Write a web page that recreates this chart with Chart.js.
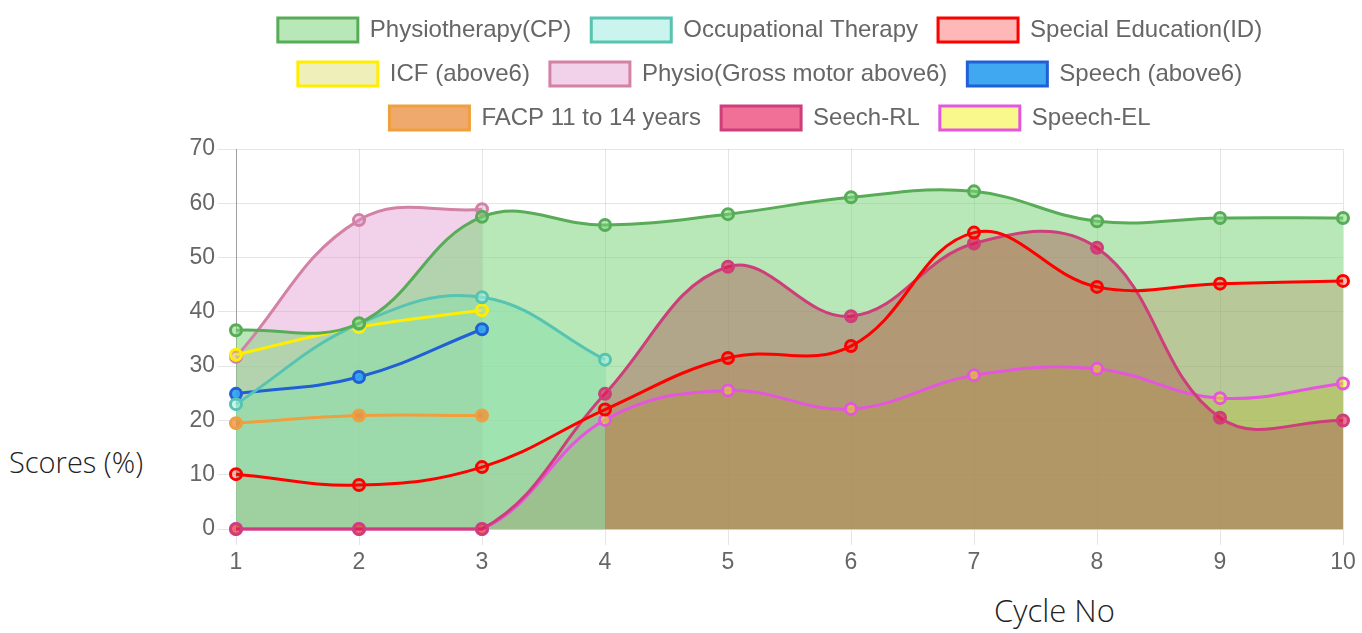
<!DOCTYPE html>
<html>
<head>
<meta charset="utf-8">
<script src="https://cdn.jsdelivr.net/npm/chart.js@4"></script>
<style>
  html, body { margin: 0; padding: 0; background: #fff; }
  body { width: 1362px; height: 633px; position: relative; overflow: hidden; }
  #wrap { position: absolute; left: 178px; top: -2px; width: 1184px; height: 582px; }
  .axis-title { position: absolute; font-family: "Open Sans", sans-serif; font-weight: 300; color: #222; white-space: nowrap; }
  #yTitle { left: 9px; top: 442px; font-size: 29px; }
  #xTitle { left: 994px; top: 589px; font-size: 31px; }
</style>
</head>
<body>
<div id="wrap"><canvas id="chart"></canvas></div>
<div class="axis-title" id="yTitle">Scores (%)</div>
<div class="axis-title" id="xTitle">Cycle No</div>
<script>
// cycles on the x axis
const cycles = ['1', '2', '3', '4', '5', '6', '7', '8', '9', '10'];

// scores per programme
const physioCP    = [36.6, 37.9, 57.5, 56.0, 58.0, 61.1, 62.2, 56.7, 57.3, 57.3];
const occTherapy  = [23.0, 37.8, 42.7, 31.2, null, null, null, null, null, null];
const specialEdID = [10.1, 8.1, 11.4, 22.0, 31.5, 33.7, 54.6, 44.6, 45.2, 45.7];
const icfAbove6   = [32.1, 37.2, 40.3, null, null, null, null, null, null, null];
const physioGross = [31.7, 56.9, 58.9, null, null, null, null, null, null, null];
const speechAbove6 = [24.9, 28.0, 36.8, null, null, null, null, null, null, null];
const facp11to14  = [19.5, 20.9, 20.9, null, null, null, null, null, null, null];
const speechRL    = [0, 0, 0, 24.9, 48.3, 39.2, 52.6, 51.8, 20.5, 20.0];
const speechEL    = [0, 0, 0, 20.1, 25.5, 22.1, 28.3, 29.5, 24.1, 26.8];

// y axis
const yMin = 0, yMax = 70, yStep = 10;

Chart.defaults.font.family = "'Liberation Sans', Arial, sans-serif";
Chart.defaults.color = '#666';

function series(label, data, border, bg, fill) {
    return {
        label: label,
        data: data,
        borderColor: border,
        backgroundColor: bg,
        fill: fill,
        borderWidth: 3,
        pointRadius: 5.5,
        pointBorderWidth: 3,
        tension: 0.4,
        clip: false
    };
}

const datasets = [
    series('Physiotherapy(CP)', physioCP, 'rgb(88,172,88)', 'rgba(124,212,124,0.54)', true),
    series('Occupational Therapy', occTherapy, 'rgb(86,196,176)', 'rgba(162,238,226,0.58)', true),
    series('Special Education(ID)', specialEdID, 'rgb(255,0,0)', 'rgba(255,0,0,0.28)', true),
    series('ICF (above6)', icfAbove6, 'rgb(255,238,0)', 'rgba(220,220,100,0.45)', false),
    series('Physio(Gross motor above6)', physioGross, 'rgb(210,130,165)', 'rgba(222,142,202,0.4)', true),
    series('Speech (above6)', speechAbove6, 'rgb(32,96,214)', 'rgba(54,162,240,0.95)', false),
    series('FACP 11 to 14 years', facp11to14, 'rgb(238,160,62)', 'rgba(235,140,60,0.75)', false),
    series('Seech-RL', speechRL, 'rgb(205,62,122)', 'rgba(230,17,83,0.6)', true),
    series('Speech-EL', speechEL, 'rgb(228,86,222)', 'rgba(240,240,0,0.45)', true)
];

// give the legend a little more room below its last row
const legendGap = {
    id: 'legendGap',
    beforeInit(chart) {
        const fit = chart.legend.fit;
        chart.legend.fit = function () {
            fit.call(this);
            this.height += 9;
        };
    }
};

new Chart(document.getElementById('chart'), {
    type: 'line',
    data: { labels: cycles, datasets: datasets },
    plugins: [legendGap],
    options: {
        responsive: true,
        maintainAspectRatio: false,
        animation: false,
        layout: { padding: 0 },
        plugins: {
            filler: { drawTime: 'beforeDatasetsDraw' },
            legend: {
                position: 'top',
                labels: { font: { size: 24 }, boxWidth: 80, boxHeight: 24, padding: 20 }
            },
            tooltip: { enabled: false }
        },
        scales: {
            x: {
                offset: false,
                grid: { color: 'rgba(0,0,0,0.1)', tickLength: 16 },
                ticks: { font: { size: 23 }, padding: 4 },
                afterFit: function (scale) {
                    scale.height = 51;
                    scale.paddingRight = 19;
                }
            },
            y: {
                min: yMin,
                max: yMax,
                ticks: { stepSize: yStep, font: { size: 23 }, padding: 3 },
                grid: { color: 'rgba(0,0,0,0.1)', tickLength: 18 },
                border: { color: 'rgba(0,0,0,0.3)' },
                afterFit: function (scale) { scale.width = 58; }
            }
        }
    }
});
</script>
</body>
</html>
